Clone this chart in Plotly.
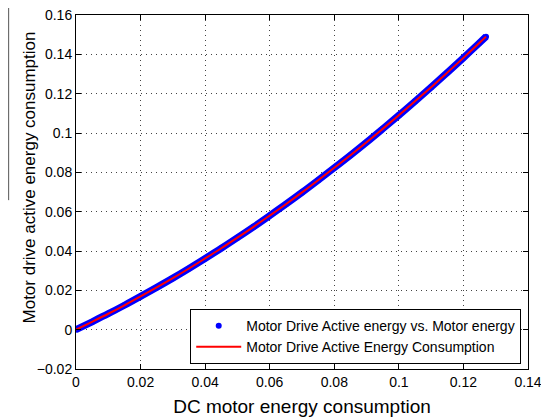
import plotly.graph_objects as go

x_vals = [0, 0.005, 0.01, 0.015, 0.02, 0.025, 0.03, 0.035, 0.04, 0.045, 0.05, 0.055,
          0.06, 0.065, 0.07, 0.075, 0.08, 0.085, 0.09, 0.095, 0.1, 0.105, 0.11, 0.115,
          0.12, 0.125, 0.127]
y_vals = [0, 0.0040, 0.0081, 0.0124, 0.0169, 0.0215, 0.0262, 0.0311, 0.0362, 0.0414,
          0.0468, 0.0523, 0.0580, 0.0638, 0.0698, 0.0760, 0.0823, 0.0887, 0.0953,
          0.1021, 0.1090, 0.1161, 0.1233, 0.1307, 0.1382, 0.1459, 0.1490]

x_ticks = [0, 0.02, 0.04, 0.06, 0.08, 0.1, 0.12, 0.14]
x_tick_text = ["0", "0.02", "0.04", "0.06", "0.08", "0.1", "0.12", "0.14"]
y_ticks = [-0.02, 0, 0.02, 0.04, 0.06, 0.08, 0.1, 0.12, 0.14, 0.16]
y_tick_text = ["\u22120.02", "0", "0.02", "0.04", "0.06", "0.08", "0.1", "0.12", "0.14", "0.16"]

font = "Liberation Sans, Arial, sans-serif"

fig = go.Figure()
# dense dot band
fig.add_trace(go.Scatter(x=x_vals, y=y_vals, mode="lines",
                         line=dict(color="#0000ff", width=7, shape="spline"),
                         showlegend=False, hoverinfo="skip"))
fig.add_trace(go.Scatter(x=x_vals, y=y_vals, mode="markers",
                         marker=dict(color="#0000ff", size=6),
                         showlegend=False))
# legend entry for dots
fig.add_trace(go.Scatter(x=[None], y=[None], mode="markers",
                         marker=dict(color="#0000ff", size=6),
                         name="Motor Drive Active energy vs. Motor energy"))
fig.add_trace(go.Scatter(x=x_vals, y=y_vals, mode="lines",
                         line=dict(color="#ff0000", width=2, shape="spline"),
                         name="Motor Drive Active Energy Consumption"))

axis_common = dict(showline=True, linecolor="black", linewidth=1, mirror="ticks",
                   ticks="inside", ticklen=5, tickcolor="black", automargin=False,
                   ticklabeloverflow="allow",
                   showgrid=True, gridcolor="#444444", gridwidth=1, griddash="1px,4px",
                   zeroline=False, tickfont=dict(size=14, color="black", family=font))

fig.update_xaxes(range=[0, 0.14], tickvals=x_ticks, ticktext=x_tick_text,
                 title=dict(text="DC motor energy consumption", font=dict(size=19, color="black", family=font), standoff=10),
                 **axis_common)
fig.update_yaxes(range=[-0.02, 0.16], tickvals=y_ticks, ticktext=y_tick_text,
                 **axis_common)

fig.add_annotation(text="Motor drive active energy consumption", textangle=-90,
                   xref="paper", yref="paper", x=-0.128, y=0.54,
                   showarrow=False, font=dict(size=17, color="black", family=font))
fig.add_shape(type="line", xref="paper", yref="paper", x0=-0.149, x1=-0.149,
              y0=1.02, y1=0.477, line=dict(color="#555555", width=1))

fig.update_layout(width=549, height=417,
                  margin=dict(l=68, r=29, t=7, b=56),
                  paper_bgcolor="white", plot_bgcolor="white",
                  font=dict(family=font, color="black"),
                  legend=dict(x=0.985, y=0.014, xanchor="right", yanchor="bottom",
                              bgcolor="white", bordercolor="black", borderwidth=1,
                              font=dict(size=14, color="black", family=font),
                              tracegroupgap=0, itemwidth=45))

fig.write_html("out.html")
